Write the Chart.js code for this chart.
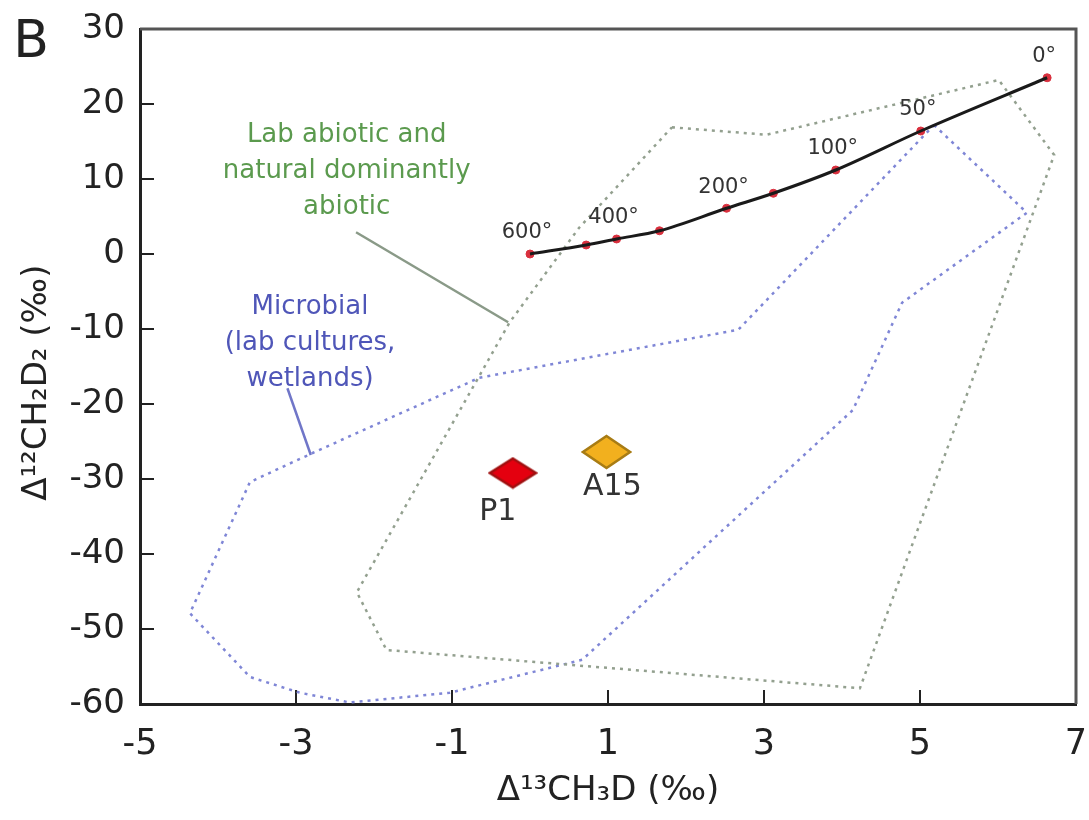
<!DOCTYPE html>
<html>
<head>
<meta charset="utf-8">
<script src="https://cdn.jsdelivr.net/npm/chart.js@4.4.1/dist/chart.umd.min.js"></script>
<style>
html, body { margin: 0; padding: 0; background: #fff; }
canvas { display: block; }
</style>
</head>
<body>
<canvas id="grafico" width="1089" height="820"></canvas>
<script>
// dados

const xTicks = [-5, -3, -1, 1, 3, 5, 7]
const yTicks = [30, 20, 10, 0, -10, -20, -30, -40, -50, -60]

// curva de equilibrio (temperaturas)
const curveTemps = ['600°', '', '400°', '', '200°', '', '100°', '50°', '0°']
const curveX = [0.0, 0.72, 1.11, 1.66, 2.52, 3.12, 3.92, 5.01, 6.63]
const curveY = [0.0, 1.2, 2.0, 3.1, 6.1, 8.1, 11.2, 16.4, 23.5]

// campo abiotico (poligono tracejado cinza-verde)
const abioticX = [1.82, 3.03, 6.01, 6.72, 4.23, -1.84, -2.22, -0.26, 0.63, 1.82]
const abioticY = [16.9, 15.9, 23.2, 13.2, -57.9, -52.8, -45.1, -9.1, 3.5, 16.9]

// campo microbiano (poligono tracejado azul)
const microbialX = [5.18, 6.37, 4.77, 4.14, 0.67, -1.03, -2.31, -2.95, -3.59, -4.36, -3.59, -2.78, -0.65, 2.67, 5.18]
const microbialY = [17.2, 5.5, -6.5, -20.8, -54.1, -58.5, -59.8, -58.5, -56.4, -47.9, -30.4, -26.5, -16.5, -10.1, 17.2]

// linhas de chamada dos rotulos
const abioticCalloutX = [-2.23, -0.28]
const abioticCalloutY = [2.9, -9.1]
const microbialCalloutX = [-3.11, -2.81]
const microbialCalloutY = [-17.9, -26.8]

// amostras
const sampleNames = ['P1', 'A15']
const sampleX = [-0.22, 0.98]
const sampleY = [-29.2, -26.4]

const abioticLabel = ['Lab abiotic and', 'natural dominantly', 'abiotic']
const microbialLabel = ['Microbial', '(lab cultures,', 'wetlands)']

/*========================================================*/

const fonte = 'DejaVu Sans'

function pontos(xs, ys) {
    let lista = []
    for (let i = 0; i < xs.length; i++) {
        lista.push({x: xs[i], y: ys[i]})
    }
    return lista
}

function losango(fill, stroke, w, h) {
    const c = document.createElement('canvas')
    c.width = w + 4
    c.height = h + 4
    const g = c.getContext('2d')
    g.beginPath()
    g.moveTo(c.width / 2, 2)
    g.lineTo(c.width - 2, c.height / 2)
    g.lineTo(c.width / 2, c.height - 2)
    g.lineTo(2, c.height / 2)
    g.closePath()
    g.fillStyle = fill
    g.fill()
    g.lineWidth = 2.5
    g.strokeStyle = stroke
    g.stroke()
    return c
}

const simbolos = [
    losango('#e4000f', '#a01010', 46, 29),
    losango('#f2b01e', '#a87c14', 47, 32)
]

/*========================================================*/

const textos = {
    id: 'textos',
    afterDatasetsDraw(chart) {
        const ctx = chart.ctx
        const sx = chart.scales.x
        const sy = chart.scales.y
        const area = chart.chartArea
        ctx.save()

        // moldura superior e direita
        ctx.strokeStyle = '#555'
        ctx.lineWidth = 3
        ctx.beginPath()
        ctx.moveTo(area.left, area.top)
        ctx.lineTo(area.right, area.top)
        ctx.lineTo(area.right, area.bottom)
        ctx.stroke()

        ctx.textAlign = 'center'
        ctx.textBaseline = 'middle'

        // temperaturas
        const meta = chart.getDatasetMeta(2)
        ctx.fillStyle = '#333'
        ctx.font = '21px "' + fonte + '"'
        meta.data.forEach((p, i) => {
            if (curveTemps[i]) ctx.fillText(curveTemps[i], p.x - 3, p.y - 21)
        })

        // amostras
        ctx.font = '30px "' + fonte + '"'
        ctx.fillStyle = '#333'
        const off = [[-15, 39], [6, 35]]
        sampleNames.forEach((n, i) => {
            ctx.fillText(n, sx.getPixelForValue(sampleX[i]) + off[i][0], sy.getPixelForValue(sampleY[i]) + off[i][1])
        })

        // rotulos dos campos
        ctx.font = '26px "' + fonte + '"'
        ctx.fillStyle = '#5b9a4e'
        let ax = sx.getPixelForValue(-2.35)
        let ay = sy.getPixelForValue(15.9)
        abioticLabel.forEach((t, i) => ctx.fillText(t, ax, ay + i * 36))

        ctx.fillStyle = '#4f56b8'
        ax = sx.getPixelForValue(-2.82)
        ay = sy.getPixelForValue(-7.1)
        microbialLabel.forEach((t, i) => ctx.fillText(t, ax, ay + i * 36))

        // letra do painel
        ctx.fillStyle = '#222'
        ctx.font = '52px "' + fonte + '"'
        ctx.fillText('B', 31, 43)
        ctx.restore()
    }
}

/*========================================================*/

var grafico = new Chart(document.getElementById('grafico'), {
    type: 'scatter',
    data: {
        datasets: [
            {
                label: 'amostras',
                data: pontos(sampleX, sampleY),
                pointStyle: simbolos,
                pointRadius: 12,
                showLine: false
            },
            {
                label: 'curva',
                data: pontos(curveX, curveY),
                showLine: true,
                borderColor: '#1a1a1a',
                borderWidth: 3,
                cubicInterpolationMode: 'monotone',
                pointRadius: 0
            },
            {
                label: 'marcas',
                data: pontos(curveX, curveY),
                showLine: false,
                pointStyle: 'circle',
                pointRadius: 4,
                backgroundColor: '#d9303e',
                borderColor: '#d9303e'
            },
            {
                label: 'chamada abiotico',
                data: pontos(abioticCalloutX, abioticCalloutY),
                showLine: true,
                borderColor: '#8a9a88',
                borderWidth: 2.5,
                pointRadius: 0
            },
            {
                label: 'chamada microbiano',
                data: pontos(microbialCalloutX, microbialCalloutY),
                showLine: true,
                borderColor: '#7076c8',
                borderWidth: 2.5,
                pointRadius: 0
            },
            {
                label: 'abiotico',
                data: pontos(abioticX, abioticY),
                showLine: true,
                borderColor: '#93a08f',
                borderWidth: 2.5,
                borderDash: [3, 5],
                pointRadius: 0
            },
            {
                label: 'microbiano',
                data: pontos(microbialX, microbialY),
                showLine: true,
                borderColor: '#7f86d6',
                borderWidth: 2.5,
                borderDash: [3, 5],
                pointRadius: 0
            }
        ]
    },
    options: {
        responsive: false,
        animation: false,
        devicePixelRatio: 1,
        layout: { padding: { left: 0, right: 12, top: 29, bottom: 0 } },
        plugins: {
            legend: { display: false },
            tooltip: { enabled: false }
        },
        scales: {
            x: {
                type: 'linear',
                min: -5,
                max: 7,
                afterBuildTicks: s => { s.ticks = xTicks.map(v => ({value: v})) },
                afterFit: s => {
                    s.height = 116
                    s.paddingLeft = 0
                    s.paddingRight = 0
                },
                ticks: {
                    font: { family: fonte, size: 35 },
                    color: '#222',
                    padding: 34,
                    autoSkip: false,
                    maxRotation: 0
                },
                grid: { drawOnChartArea: false, tickLength: -14, color: '#222', lineWidth: 2 },
                border: { color: '#222', width: 3 },
                title: {
                    display: true,
                    text: 'Δ¹³CH₃D (‰)',
                    font: { family: fonte, size: 34 },
                    color: '#222',
                    padding: { top: 8, bottom: 8 }
                }
            },
            y: {
                type: 'linear',
                min: -60,
                max: 30,
                afterBuildTicks: s => { s.ticks = yTicks.map(v => ({value: v})) },
                afterFit: s => {
                    s.width = 140
                    s.paddingTop = 0
                    s.paddingBottom = 0
                },
                ticks: {
                    font: { family: fonte, size: 34 },
                    color: '#222',
                    padding: 29,
                    autoSkip: false
                },
                grid: { drawOnChartArea: false, tickLength: -14, color: '#222', lineWidth: 2 },
                border: { color: '#222', width: 3 },
                title: {
                    display: true,
                    text: 'Δ¹²CH₂D₂ (‰)\u00a0\u00a0\u00a0',
                    font: { family: fonte, size: 34 },
                    color: '#222',
                    padding: { top: 17, bottom: 0 }
                }
            }
        }
    },
    plugins: [textos]
})
</script>
</body>
</html>
